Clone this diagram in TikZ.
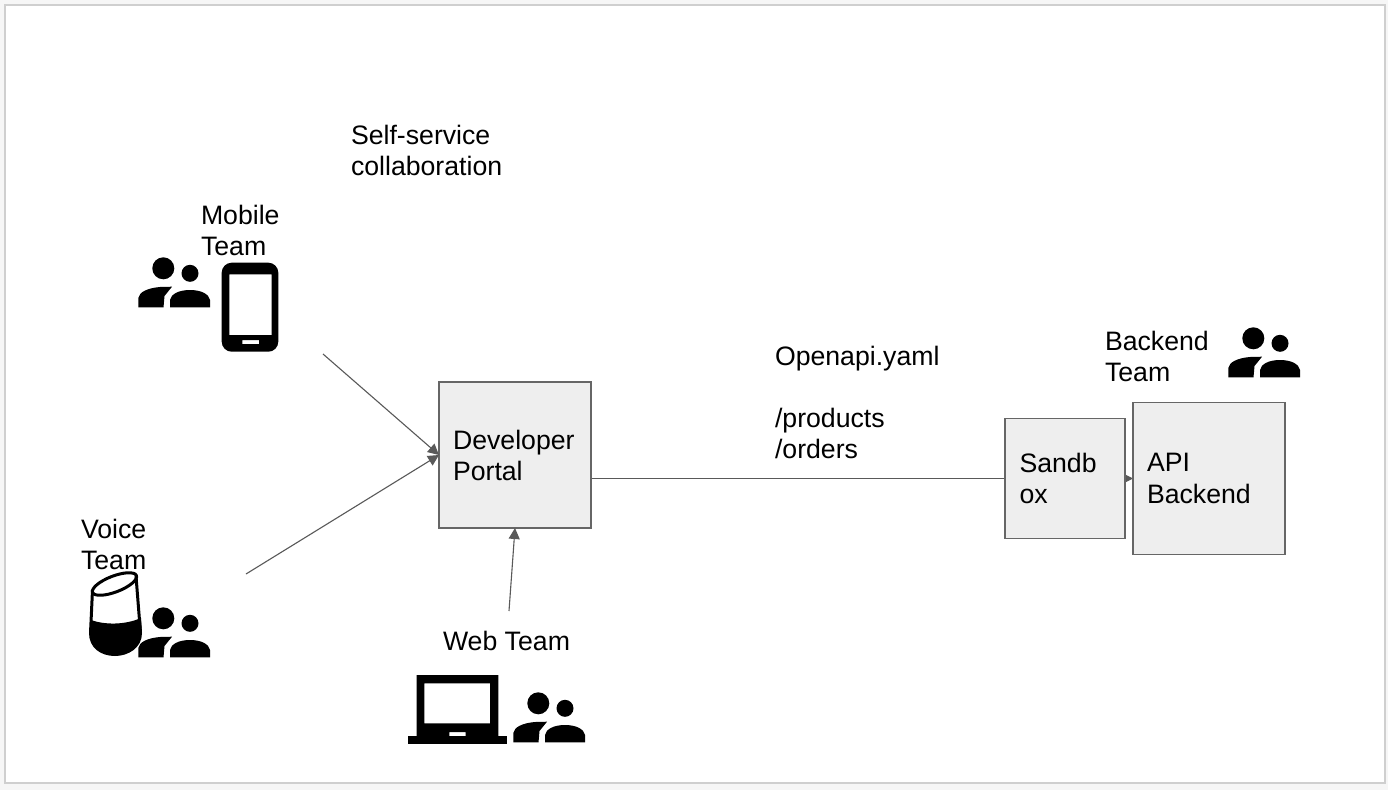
\documentclass[tikz,border=0pt]{standalone}
\usepackage{fontspec}
\setmainfont{Liberation Sans}
\usetikzlibrary{arrows.meta,backgrounds}
\definecolor{boxfill}{HTML}{EEEEEE}
\definecolor{boxline}{HTML}{666666}
\definecolor{linkline}{HTML}{595959}
\definecolor{framegray}{HTML}{CFCFCF}
\definecolor{pagegray}{HTML}{F6F6F6}
\tikzset{
  every node/.style={font=\fontsize{26.67}{31}\selectfont, text=black},
  box/.style={draw=boxline, fill=boxfill, line width=1.3pt, rectangle, outer sep=0pt, align=left, inner ysep=0pt},
  label/.style={anchor=north west, inner sep=0pt, outer sep=0pt, align=left},
  link/.style={draw=linkline, line width=1.1pt, -{Stealth[length=11pt,width=11pt,inset=0pt]}, shorten >=0pt},
  people/.pic={
    \fill[black] (25.3,10.3) circle (11);
    \fill[black] (52,15.3) circle (8.5);
    \fill[black] (0.3,49.3) -- (0.3,40) .. controls (1,34) and (10,30) .. (22,29) -- (34,28.7) -- (26.5,38) -- (25.5,49.3) -- cycle;
    \fill[black] (32,49.3) -- (32,42) .. controls (33,36) and (41,32) .. (52,32) .. controls (63,32) and (71,36) .. (72,42) -- (72,49.3) -- cycle;
  }
}
\begin{document}
\begin{tikzpicture}[x=1pt,y=-1pt]
\useasboundingbox (0,0) rectangle (1388,790);

% boxes
\node[box, minimum width=152pt, minimum height=146pt, text width=124pt] (dev) at (515,455) {Developer\\Portal};
\node[box, minimum width=120pt, minimum height=120pt, text width=91pt] (sandbox) at (1065,478.5) {Sandb\\[0.5pt]ox};
\node[box, minimum width=152pt, minimum height=152pt, text width=124pt] (api) at (1209,478.5) {API\\[1pt]Backend};

% labels
\node[label] (selfservice) at (351,125.5) {Self-service\\collaboration};
\node[label] (mobile) at (201,205.5) {Mobile\\Team};
\node[label] (voice) at (81,519.5) {Voice\\Team};
\node[label] (web) at (443,631) {Web Team};
\node[label] (openapi) at (775,346.5) {Openapi.yaml\\[31pt]/products\\/orders};
\node[label] (backend) at (1105,331.5) {Backend\\Team};

% free ends of connectors
\coordinate (mobilefree) at (323,354);
\coordinate (voicefree) at (246,574);
\coordinate (webfree) at (509,611);

\draw[link] (mobilefree) -- (dev.west);
\draw[link] (voicefree) -- (dev.west);
\draw[link] (webfree) -- (dev.south);
\begin{pgfonlayer}{background}
\fill[pagegray] (0,0) rectangle (1388,790);
\draw[framegray, line width=2pt, fill=white] (5,5) rectangle (1385,783);
\draw[link] (dev.east |- api.west) -- (api.west);
\end{pgfonlayer}

% people icons
\pic at (138,258) {people};
\pic at (138,608) {people};
\pic at (513,693) {people};
\pic at (1228,328) {people};

% phone
\fill[black, even odd rule]
  (231.7,262.7) -- (268.3,262.7) arc[start angle=-90,end angle=0,radius=10] -- (278.3,341.7) arc[start angle=0,end angle=90,radius=10] -- (231.7,351.7) arc[start angle=90,end angle=180,radius=10] -- (221.7,272.7) arc[start angle=180,end angle=270,radius=10] -- cycle
  (229.3,274.3) rectangle (271.7,335)
  (242.3,340) rectangle (259,344);

% speaker
\fill[black] (91,620) .. controls (105,625) and (125,625) .. (141,618) -- (142,633) .. controls (142,648) and (128,656) .. (115,656) .. controls (101,656) and (89,648) .. (89,633) -- cycle;
\draw[black, line width=3pt, line join=round] (92.5,590) -- (90.5,633);
\draw[black, line width=3pt, line join=round] (136,576) -- (140.5,633);
\draw[black, line width=3pt] (114.5,584) ellipse[x radius=23.5, y radius=8, rotate=21];

% laptop
\fill[black, even odd rule]
  (416.7,675) rectangle (498.3,736)
  (424.3,683.3) rectangle (490,723.3)
  (449.3,732) rectangle (465.7,736);
\fill[black] (408.3,736) rectangle (506.7,744.3);
\end{tikzpicture}
\end{document}
